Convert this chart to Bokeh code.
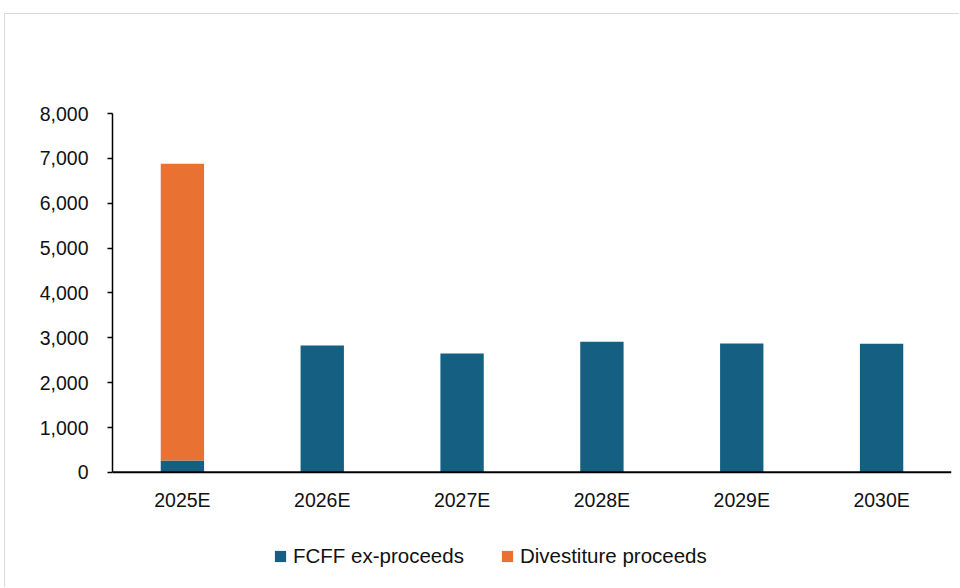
from bokeh.plotting import figure
from bokeh.models import ColumnDataSource, FixedTicker, NumeralTickFormatter, Legend, LegendItem, Range1d, FactorRange, Span
from bokeh.core.properties import value
from bokeh.embed import file_html
from bokeh.resources import INLINE

years = ["2025E", "2026E", "2027E", "2028E", "2029E", "2030E"]
fcff_ex_proceeds = [265, 2830, 2650, 2910, 2870, 2865]
divestiture_proceeds = [6615, 0, 0, 0, 0, 0]
y_ticks = [0, 1000, 2000, 3000, 4000, 5000, 6000, 7000, 8000]

BLUE = "#156082"
ORANGE = "#E97132"
FONT = "Liberation Sans"
TXT = "#111111"

src = ColumnDataSource(dict(
    year=years,
    fcff=fcff_ex_proceeds,
    div=divestiture_proceeds,
))

p = figure(
    x_range=FactorRange(*years, range_padding=0),
    y_range=Range1d(-2500, 8000),
    width=955, height=574,
    x_axis_location=None,
    output_backend="svg", toolbar_location=None,
    min_border_left=107, min_border_right=9,
    min_border_top=99, min_border_bottom=4,
)
p.styles = {"margin-left": "4px", "margin-top": "13px",
            "border-left": "1px solid #d9d9d9", "border-top": "1px solid #d9d9d9"}

r = p.vbar_stack(["fcff", "div"], x="year", width=0.31, source=src,
                 color=[BLUE, ORANGE], line_color=None)

p.xgrid.visible = False
p.ygrid.visible = False
p.outline_line_color = None

# category axis line at zero and category labels
p.add_layout(Span(location=0, dimension="width", line_color="black", line_width=2))
p.text(x=years, y=[0] * len(years), text=years, y_offset=17,
       text_align="center", text_baseline="top",
       text_font=value(FONT), text_font_size="19.5px", text_color=TXT)

yax = p.yaxis[0]
yax.ticker = FixedTicker(ticks=y_ticks)
yax.bounds = (0, 8000)
yax.formatter = NumeralTickFormatter(format="0,0")
yax.axis_line_color = "black"
yax.axis_line_width = 1.5
yax.major_tick_line_color = "black"
yax.major_tick_line_width = 1.5
yax.major_tick_in = 0
yax.major_tick_out = 5
yax.minor_tick_line_color = None
yax.major_label_standoff = 19
yax.major_label_text_font = FONT
yax.major_label_text_font_size = "19.5px"
yax.major_label_text_color = TXT

legend = Legend(
    items=[LegendItem(label="FCFF ex-proceeds", renderers=[r[0]]),
           LegendItem(label="Divestiture proceeds", renderers=[r[1]])],
    orientation="horizontal",
    location=(161, 16),
    padding=0, margin=0,
    spacing=36,
    glyph_width=14, glyph_height=14,
    label_standoff=6,
    label_text_font=FONT,
    label_text_font_size="20.5px",
    label_text_color=TXT,
    border_line_color=None,
    background_fill_alpha=0,
)
p.add_layout(legend, "center")

open("out.html", "w").write(file_html(p, INLINE))
